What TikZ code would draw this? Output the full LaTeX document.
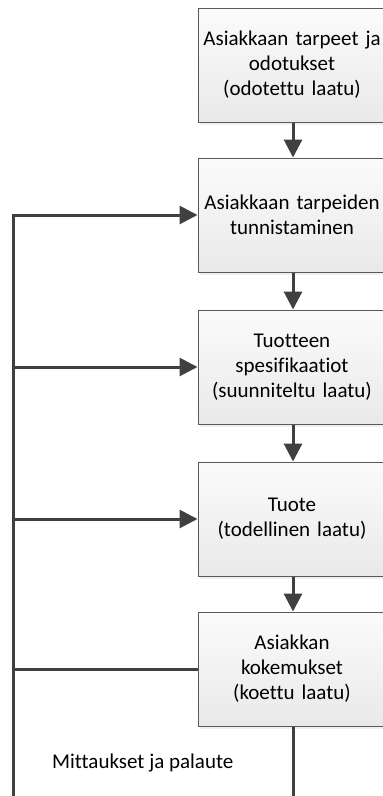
\documentclass[tikz,border=0pt]{standalone}
\usepackage{fontspec}
\setmainfont[Ligatures=NoCommon]{Carlito}
\usetikzlibrary{arrows.meta}
\definecolor{linec}{HTML}{404040}
\definecolor{boxtop}{HTML}{FBFBFB}
\definecolor{boxbot}{HTML}{E9E9E9}
\definecolor{boxline}{HTML}{595959}
\tikzset{
  stepbox/.style={draw=boxline, line width=1pt, top color=boxtop, bottom color=boxbot,
    minimum width=188pt, minimum height=114pt, inner sep=0pt, text width=184pt, align=center,
    font=\fontsize{21}{25}\selectfont, text=black},
  shadowbox/.style={fill=black!6, minimum width=188pt, minimum height=114pt, inner sep=0pt},
  conn/.style={draw=linec, line width=3pt},
  arr/.style={conn, -{Triangle[length=18pt,width=18pt]}},
  lbl/.style={font=\fontsize{21}{25}\selectfont, inner sep=0pt, anchor=west, text=black}
}
\begin{document}
\begin{tikzpicture}[x=1pt,y=-1pt]
\useasboundingbox (0,0) rectangle (383,796);
\fill[white] (0,0) rectangle (383,796);
\begin{scope}
\clip (0,0) rectangle (383,796);
% faint shadows
\foreach \yy in {65,215,367,519,669} {
  \node[shadowbox] at (294,\yy+3) {};
}
\node[stepbox] (b1) at (292,65) {Asiakkaan tarpeet ja\\odotukset\\(odotettu laatu)};
\node[stepbox] (b2) at (292,215) {Asiakkaan tarpeiden\\tunnistaminen};
\node[stepbox] (b3) at (292,367) {Tuotteen\\spesifikaatiot\\(suunniteltu laatu)};
\node[stepbox] (b4) at (292,519) {Tuote\\(todellinen laatu)};
\node[stepbox] (b5) at (292,669) {Asiakkan\\kokemukset\\(koettu laatu)};
\end{scope}
\coordinate (lb) at (13,797);
\coordinate (bb) at (293,797);
\draw[arr] (b1.south -| bb) -- (b2.north -| bb);
\draw[arr] (b2.south -| bb) -- (b3.north -| bb);
\draw[arr] (b3.south -| bb) -- (b4.north -| bb);
\draw[arr] (b4.south -| bb) -- (b5.north -| bb);
\draw[arr] (lb) |- (b2.west);
\draw[arr] (b3.west -| lb) -- (b3.west);
\draw[arr] (b4.west -| lb) -- (b4.west);
\draw[conn] (b5.west -| lb) -- (b5.west);
\draw[conn] (b5.south -| bb) -- (bb);
\node[lbl] (m) at (52,763) {Mittaukset ja palaute};
\end{tikzpicture}
\end{document}
